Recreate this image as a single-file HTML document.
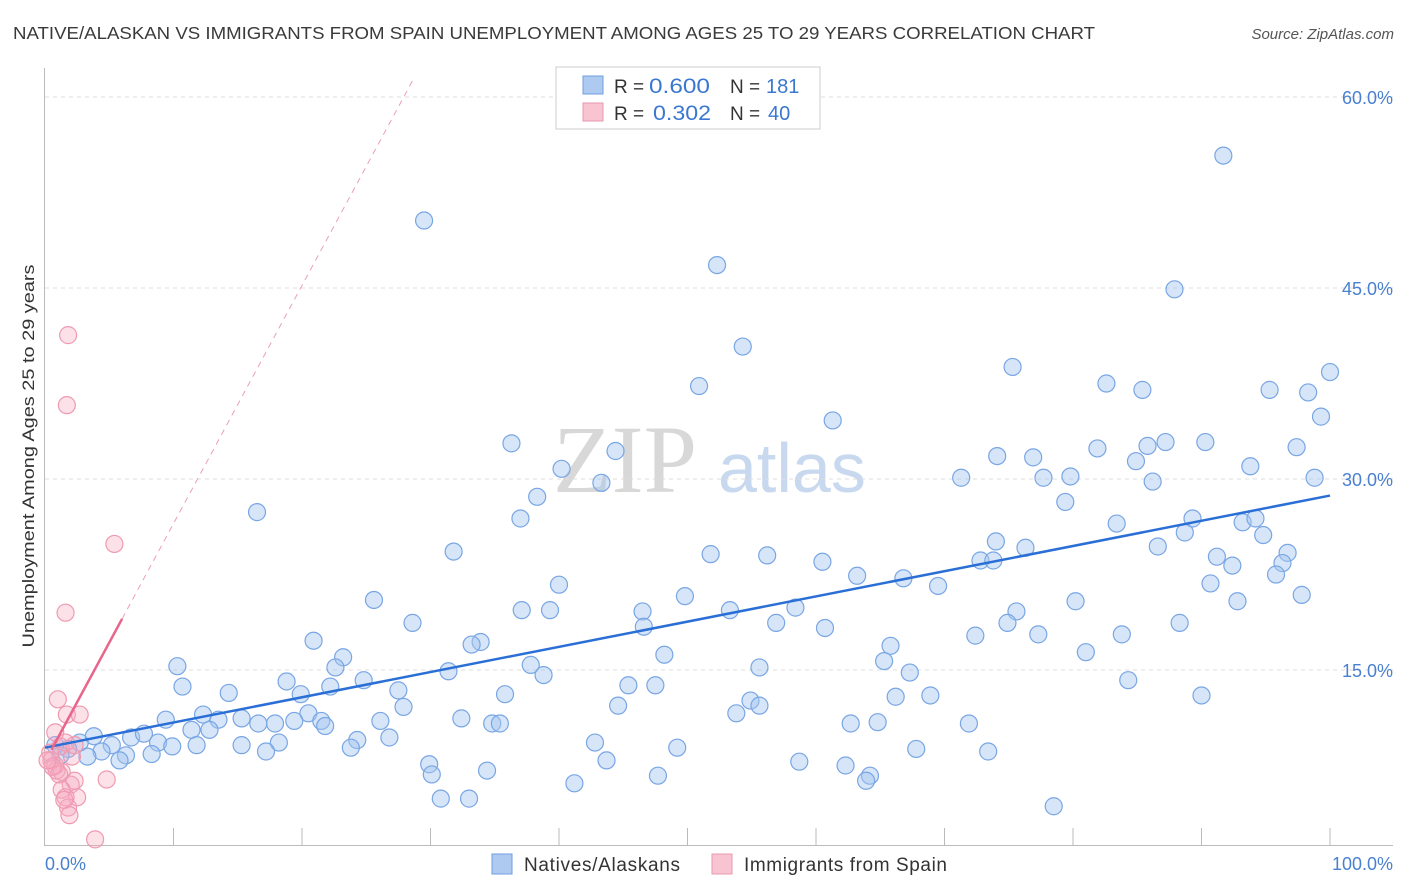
<!DOCTYPE html>
<html><head><meta charset="utf-8"><style>
body{margin:0;background:#fff;font-family:"Liberation Sans",sans-serif;}
#wrap{position:relative;width:1406px;height:892px;overflow:hidden;}
</style></head><body>
<div id="wrap">
<svg id="svg" width="1406" height="892" xmlns="http://www.w3.org/2000/svg">
<text x="13" y="39" font-size="17.5" fill="#3a3a3a" textLength="1082" lengthAdjust="spacingAndGlyphs">NATIVE/ALASKAN VS IMMIGRANTS FROM SPAIN UNEMPLOYMENT AMONG AGES 25 TO 29 YEARS CORRELATION CHART</text>
<text x="1394" y="39" font-size="15" fill="#555" font-style="italic" text-anchor="end">Source: ZipAtlas.com</text>
<g><text x="553" y="492" font-size="96" font-family="Liberation Serif,serif" fill="#d8d8d8">ZIP</text><text x="718" y="492" font-size="70" fill="#c8d8ee">atlas</text></g>
<g id="grid"></g>
<g id="axes"></g>
<g id="pts"></g>
<g id="trend"></g>
<text transform="translate(34,456) rotate(-90)" font-size="17" fill="#333" text-anchor="middle" textLength="383" lengthAdjust="spacingAndGlyphs">Unemployment Among Ages 25 to 29 years</text>
<g>
<rect x="556" y="67" width="264" height="62" fill="#fff" stroke="#ccc"/>
<rect x="583" y="76" width="20" height="18" fill="#aecaf0" stroke="#6d9ee0"/>
<rect x="583" y="103" width="20" height="18" fill="#f8c4d2" stroke="#e99ab0"/>
<text x="614" y="93" font-size="19" fill="#333">R =</text>
<text x="649" y="93" font-size="21" fill="#3a78d0" textLength="61" lengthAdjust="spacingAndGlyphs">0.600</text>
<text x="730" y="93" font-size="19" fill="#333">N =</text>
<text x="766" y="93" font-size="20" fill="#3a78d0">181</text>
<text x="614" y="120" font-size="19" fill="#333">R =</text>
<text x="653" y="120" font-size="21" fill="#3a78d0" textLength="58" lengthAdjust="spacingAndGlyphs">0.302</text>
<text x="730" y="120" font-size="19" fill="#333">N =</text>
<text x="768" y="120" font-size="20" fill="#3a78d0">40</text>
</g>
<g>
<rect x="492" y="854" width="20" height="20" fill="#aecaf0" stroke="#6d9ee0"/>
<text x="524" y="871" font-size="19" fill="#333" textLength="156">Natives/Alaskans</text>
<rect x="712" y="854" width="20" height="20" fill="#f8c4d2" stroke="#e99ab0"/>
<text x="744" y="871" font-size="19" fill="#333" textLength="203">Immigrants from Spain</text>
</g>
</svg>
</div>
<script>
const yTicks=[15,30,45,60];
const yTickLabels=["15.0%","30.0%","45.0%","60.0%"];
const xTickLabels=["0.0%","100.0%"];
const blueX=[91.7,29.5,52.3,87.9,54.3,75.3,100,50.9,82.6,85.4,95.3,98.3,61.3,99.3,36.3,87.2,90.3,85.8,81.9,97.4,44.4,74.1,76.9,84.9,40.2,93.8,77.7,79.8,71.3,43.3,86.2,98.8,38.3,79.4,16.5,37.0,89.3,83.4,93.2,94.2,88.7,94.8,74.0,86.6,31.8,51.8,56.2,76.3,91.2,96.7,72.8,73.8,60.5,92.4,96.3,63.2,95.8,66.8,40.0,69.5,90.7,25.6,49.8,80.2,92.8,97.8,37.1,39.3,46.5,53.3,58.4,75.6,28.6,56.9,46.6,74.9,88.3,60.7,72.4,77.3,83.8,20.9,33.9,33.2,65.8,81.0,48.2,23.2,22.6,10.3,37.8,65.3,55.6,31.4,38.8,67.3,24.8,18.8,84.3,10.7,22.2,45.4,47.5,27.5,19.9,14.3,35.8,90.0,66.2,68.9,54.9,55.6,27.9,44.6,20.5,12.3,53.8,9.4,15.3,17.9,26.1,32.4,21.5,19.4,13.5,62.7,64.8,71.9,34.8,35.4,21.8,16.6,11.4,12.8,6.7,7.7,3.8,26.8,24.3,2.7,5.2,8.8,9.9,11.8,15.3,18.2,23.8,42.8,49.2,67.8,1.8,4.4,6.3,8.3,17.2,5.8,3.3,73.4,29.9,43.7,58.7,62.3,34.4,30.1,47.7,64.2,63.9,41.2,30.8,33.0,78.5,0.8,1.2];
const blueY=[55.4,50.3,46.8,44.9,40.4,38.8,38.4,37.3,37.5,37.0,37.0,36.8,34.6,34.9,32.8,32.9,32.9,32.6,32.4,32.5,32.2,31.8,31.7,31.4,30.8,31.0,30.1,30.2,30.1,29.7,29.8,30.1,28.6,28.2,27.4,26.9,26.9,26.5,26.6,26.9,25.8,25.6,25.1,24.7,24.3,24.1,24.0,24.6,23.9,24.2,23.6,23.6,23.5,23.2,23.4,22.4,22.5,22.2,21.7,21.6,21.8,20.5,20.8,20.4,20.4,20.9,19.7,19.7,19.6,19.7,19.9,19.6,18.7,18.7,18.4,18.7,18.7,18.3,17.7,17.8,17.8,17.3,17.2,17.0,16.9,16.4,16.2,16.0,15.2,15.3,15.4,15.7,15.2,14.9,14.6,14.8,14.2,14.1,14.2,13.7,13.7,13.8,13.8,13.4,13.1,13.2,13.1,13.0,12.9,13.0,12.6,12.2,12.1,12.2,11.6,11.5,11.6,11.1,11.2,10.8,11.0,11.2,11.0,11.0,11.1,10.8,10.9,10.8,10.8,10.8,10.6,10.8,10.3,10.3,9.7,10.0,9.8,9.7,9.5,9.3,9.1,9.3,9.0,9.1,9.1,9.3,8.9,9.3,8.9,8.8,8.8,8.6,8.3,8.4,8.6,7.9,8.2,8.6,7.6,7.9,7.8,7.5,7.1,6.8,6.7,6.7,6.3,6.1,4.9,4.9,4.3,9.1,8.3];
const pinkX=[1.8,1.7,5.4,1.6,1.0,1.7,2.7,0.8,1.2,2.1,0.5,0.9,1.3,4.8,2.0,2.3,1.3,2.5,1.6,1.8,3.9,0.8,0.4,1.6,2.3,1.1,1.5,1.9,0.6,0.2];
const pinkY=[41.3,35.8,24.9,19.5,12.7,11.5,11.5,10.1,9.0,8.2,7.9,7.1,7.0,6.4,6.0,6.3,5.6,5.0,5.0,4.2,1.7,7.5,8.5,9.3,9.1,6.8,4.8,3.6,7.4,7.9];
const blueTrend=[8.9,28.7];
const pinkTrend=[7.8,1.87];
const NS="http://www.w3.org/2000/svg";
const X0=45,X1=1330,YB=861,PY=12.733;
const xs=v=>X0+(X1-X0)*v/100;
const ys=v=>YB-v*PY;
function mk(t,a,p){const e=document.createElementNS(NS,t);for(const k in a)e.setAttribute(k,a[k]);p.appendChild(e);return e;}
const grid=document.getElementById('grid'),axes=document.getElementById('axes'),pts=document.getElementById('pts'),tr=document.getElementById('trend');
yTicks.forEach((t,i)=>{
 const l=mk('line',{x1:45,x2:1393,y1:ys(t),y2:ys(t),stroke:'#ddd','stroke-dasharray':'4,4'},grid);
 
 
 const tx=mk('text',{x:1393,y:ys(t)+7,'font-size':18,fill:'#4a80d0','text-anchor':'end'},axes);tx.textContent=yTickLabels[i];
 
 
});
mk('line',{x1:44.5,x2:44.5,y1:68,y2:845,stroke:'#bbb'},axes);
mk('line',{x1:44,x2:1393,y1:845.5,y2:845.5,stroke:'#bbb'},axes);
for(let i=1;i<=10;i++){mk('line',{x1:xs(i*10),x2:xs(i*10),y1:828,y2:845,stroke:'#bbb'},axes);}
let t0=mk('text',{x:45,y:870,'font-size':18,fill:'#4a80d0'},axes);t0.textContent=xTickLabels[0];


let t1=mk('text',{x:1393,y:870,'font-size':18,fill:'#4a80d0','text-anchor':'end'},axes);t1.textContent=xTickLabels[1];


blueX.forEach((v,i)=>{const c=mk('circle',{cx:xs(v),cy:ys(blueY[i]),r:8.5,fill:'rgba(165,198,240,0.45)',stroke:'#79a6e4','stroke-width':1.2},pts);
 
 });
pinkX.forEach((v,i)=>{const c=mk('circle',{cx:xs(v),cy:ys(pinkY[i]),r:8.5,fill:'rgba(245,170,192,0.35)',stroke:'#ef9ab1','stroke-width':1.2},pts);
 
 });
const bl=mk('line',{x1:xs(0),y1:ys(blueTrend[0]),x2:xs(100),y2:ys(blueTrend[1]),stroke:'#2a6fd6','stroke-width':2.5},tr);


const pl=mk('line',{x1:xs(0.5),y1:ys(pinkTrend[0]+pinkTrend[1]*0.5),x2:xs(6),y2:ys(pinkTrend[0]+pinkTrend[1]*6),stroke:'#e8658c','stroke-width':2.5},tr);


const pd=mk('line',{x1:xs(6),y1:ys(pinkTrend[0]+pinkTrend[1]*6),x2:xs(28.6),y2:ys(pinkTrend[0]+pinkTrend[1]*28.6),stroke:'#eba0b5','stroke-width':1,'stroke-dasharray':'6,5'},tr);


</script>
</body></html>
